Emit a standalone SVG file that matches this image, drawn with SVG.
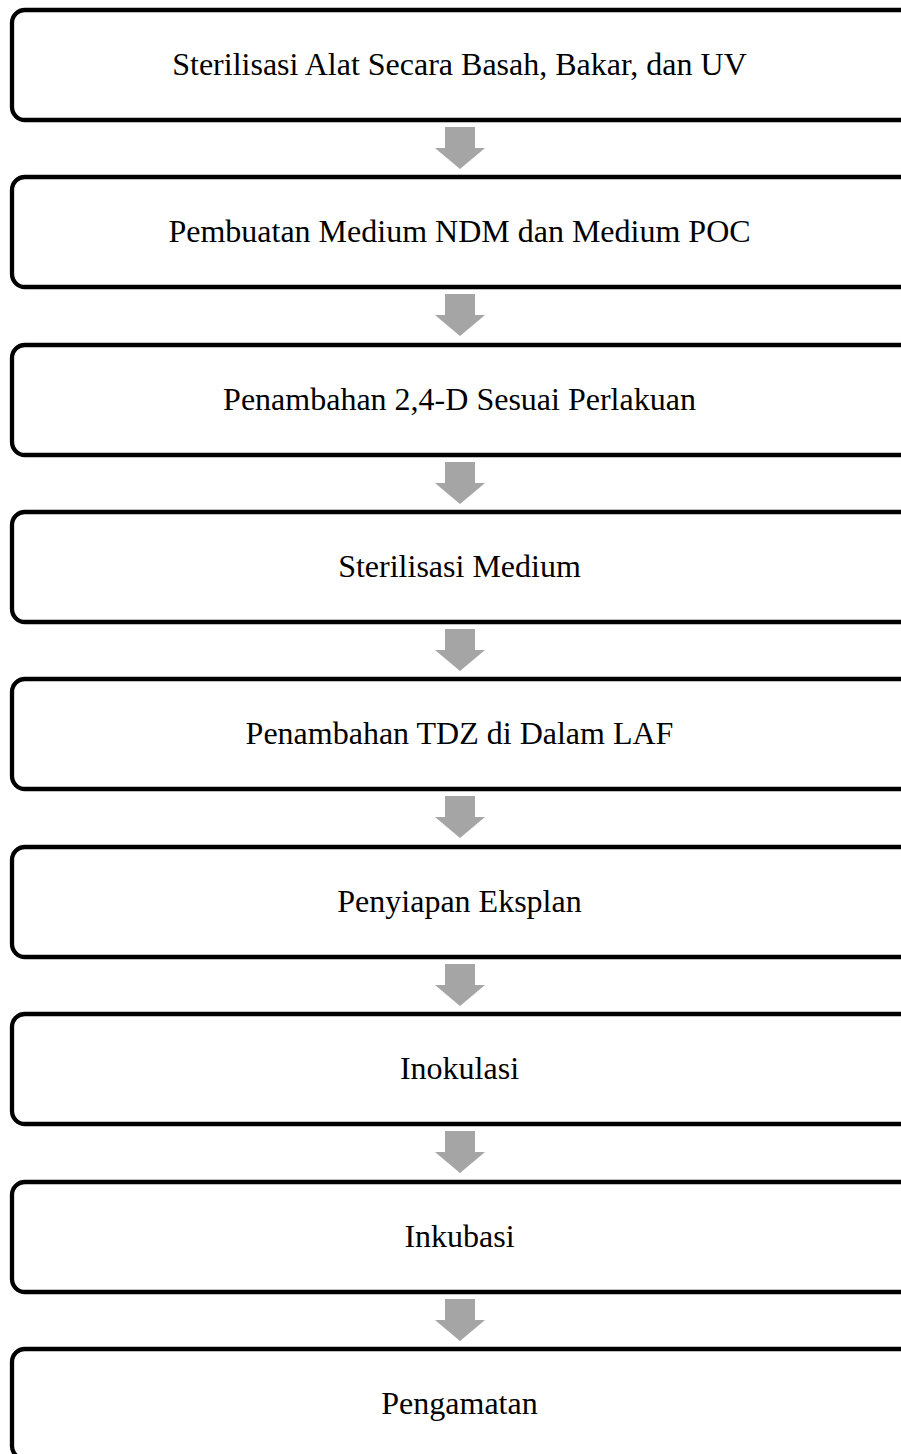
<svg xmlns="http://www.w3.org/2000/svg" width="901" height="1454" viewBox="0 0 901 1454">
<style>
.box{fill:#fff;stroke:#000;stroke-width:4.3}
.lbl{font-family:"Liberation Serif","Times New Roman",serif;font-size:32px;fill:#000;text-anchor:middle}
.arr{fill:#A5A5A5}
</style>
<defs>
<path id="dn" d="M-15,0 H15 V21 H25 L0,42 L-25,21 H-15 Z"/>
</defs>
<rect width="901" height="1454" fill="#fff"/>
<g id="connectors">
<use href="#dn" class="arr" x="460" y="127"/>
<use href="#dn" class="arr" x="460" y="294"/>
<use href="#dn" class="arr" x="460" y="462"/>
<use href="#dn" class="arr" x="460" y="629"/>
<use href="#dn" class="arr" x="460" y="796"/>
<use href="#dn" class="arr" x="460" y="964"/>
<use href="#dn" class="arr" x="460" y="1131"/>
<use href="#dn" class="arr" x="460" y="1299"/>
</g>
<g id="n1"><rect class="box" x="12" y="10" width="930" height="110" rx="13"/><text class="lbl" x="459.5" y="74.5">Sterilisasi Alat Secara Basah, Bakar, dan UV</text></g>
<g id="n2"><rect class="box" x="12" y="177" width="930" height="110" rx="13"/><text class="lbl" x="459.5" y="241.5">Pembuatan Medium NDM dan Medium POC</text></g>
<g id="n3"><rect class="box" x="12" y="345" width="930" height="110" rx="13"/><text class="lbl" x="459.5" y="409.5">Penambahan 2,4-D Sesuai Perlakuan</text></g>
<g id="n4"><rect class="box" x="12" y="512" width="930" height="110" rx="13"/><text class="lbl" x="459.5" y="576.5">Sterilisasi Medium</text></g>
<g id="n5"><rect class="box" x="12" y="679" width="930" height="110" rx="13"/><text class="lbl" x="459.5" y="743.5">Penambahan TDZ di Dalam LAF</text></g>
<g id="n6"><rect class="box" x="12" y="847" width="930" height="110" rx="13"/><text class="lbl" x="459.5" y="911.5">Penyiapan Eksplan</text></g>
<g id="n7"><rect class="box" x="12" y="1014" width="930" height="110" rx="13"/><text class="lbl" x="459.5" y="1078.5">Inokulasi</text></g>
<g id="n8"><rect class="box" x="12" y="1182" width="930" height="110" rx="13"/><text class="lbl" x="459.5" y="1246.5">Inkubasi</text></g>
<g id="n9"><rect class="box" x="12" y="1349" width="930" height="110" rx="13"/><text class="lbl" x="459.5" y="1413.5">Pengamatan</text></g>
</svg>
